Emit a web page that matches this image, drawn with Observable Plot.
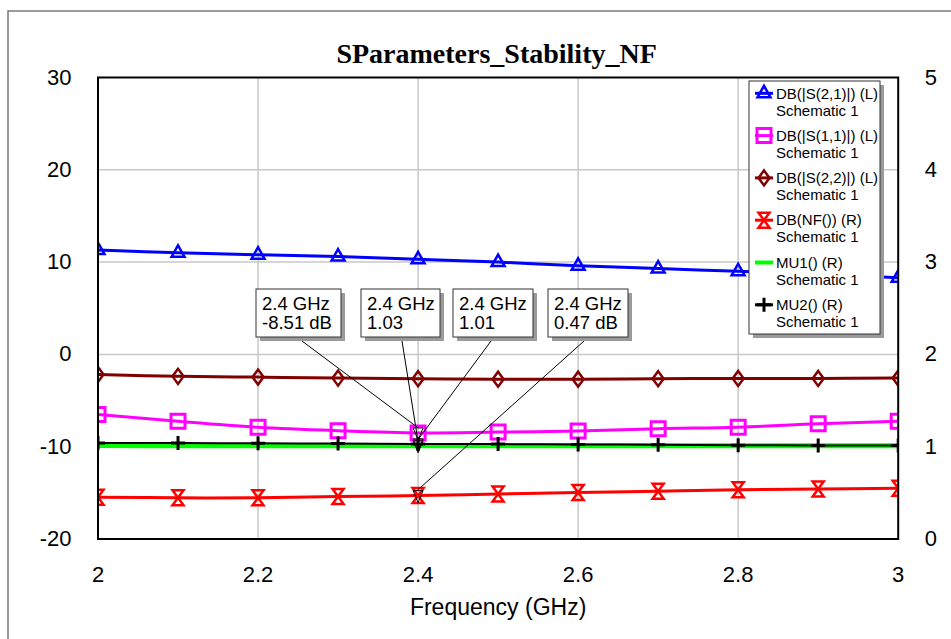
<!DOCTYPE html>
<html><head><meta charset="utf-8">
<script src="https://cdn.jsdelivr.net/npm/d3@7"></script>
<script src="https://cdn.jsdelivr.net/npm/@observablehq/plot@0.6"></script>
<style>body{margin:0;background:#fff;} svg{display:block}</style>
</head><body><div id="chart"></div>
<script>
// ---- data ----
const freq = [2.0, 2.1, 2.2, 2.3, 2.4, 2.5, 2.6, 2.7, 2.8, 2.9, 3.0];
const s21 = [11.3, 11.0, 10.8, 10.6, 10.3, 10.0, 9.6, 9.3, 9.0, 8.7, 8.3];          // dB, left
const s11 = [-6.5, -7.25, -7.9, -8.27, -8.51, -8.42, -8.3, -8.05, -7.88, -7.52, -7.23]; // dB, left
const s22 = [-2.17, -2.38, -2.46, -2.57, -2.63, -2.68, -2.68, -2.63, -2.6, -2.6, -2.57]; // dB, left
const nf  = [0.453, 0.446, 0.446, 0.46, 0.47, 0.488, 0.505, 0.518, 0.533, 0.542, 0.55]; // dB, right
const mu1 = [1.012, 1.011, 1.01, 1.01, 1.01, 1.01, 1.01, 1.01, 1.01, 1.01, 1.01];       // right
const mu2 = [1.04, 1.04, 1.037, 1.034, 1.03, 1.028, 1.025, 1.02, 1.017, 1.014, 1.012];  // right
const leftTicks = [-20, -10, 0, 10, 20, 30];
const rightTickLabels = [0, 1, 2, 3, 4, 5];
const xTicks = [2, 2.2, 2.4, 2.6, 2.8, 3];
const legendNames = ["DB(|S(2,1)|) (L)", "DB(|S(1,1)|) (L)", "DB(|S(2,2)|) (L)", "DB(NF()) (R)", "MU1() (R)", "MU2() (R)"];
const legendSub = "Schematic 1";
const markerFreqs = [2.4, 2.4, 2.4, 2.4];
const markerValues = [-8.51, 1.03, 1.01, 0.47];
const markerAxes = ["L", "R", "R", "R"];
const markerLine1 = ["2.4 GHz", "2.4 GHz", "2.4 GHz", "2.4 GHz"];
const markerLine2 = ["-8.51 dB", "1.03", "1.01", "0.47 dB"];
const titleText = "SParameters_Stability_NF";
const xLabel = "Frequency (GHz)";

// right axis (0..5) shares the left scale (-20..30)
const toLeft = v => v * 10 - 20;

const rows = freq.map((f, i) => ({f, s21: s21[i], s11: s11[i], s22: s22[i], nf: nf[i], mu1: mu1[i], mu2: mu2[i]}));
const markers = markerFreqs.map((f, i) => ({f, y: markerAxes[i] === "L" ? markerValues[i] : toLeft(markerValues[i]), l1: markerLine1[i], l2: markerLine2[i]}));

// ---- symbols ----
const triUp = {draw(c){c.moveTo(0,-7.5);c.lineTo(6.5,4);c.lineTo(-6.5,4);c.closePath();}};
const square = {draw(c){c.moveTo(-7,-7);c.lineTo(7,-7);c.lineTo(7,7);c.lineTo(-7,7);c.closePath();}};
const diamond = {draw(c){c.moveTo(0,-7.5);c.lineTo(5.5,0);c.lineTo(0,7.5);c.lineTo(-5.5,0);c.closePath();}};
const bowtie = {draw(c){c.moveTo(-5.5,-7.5);c.lineTo(5.5,-7.5);c.lineTo(-5.5,7.5);c.lineTo(5.5,7.5);c.closePath();}};
const plusSym = {draw(c){c.moveTo(0,-7);c.lineTo(0,7);c.moveTo(-7,0);c.lineTo(7,0);}};
const triDown = {draw(c){c.moveTo(-5,-5);c.lineTo(5,-5);c.lineTo(0,7);c.closePath();}};

const styles = [
  {key:"s21", color:"#0000ff", sym:triUp, lw:3, sw:2.5, axis:"L"},
  {key:"s11", color:"#ff00ff", sym:square, lw:3, sw:3, axis:"L"},
  {key:"s22", color:"#800000", sym:diamond, lw:3, sw:2.5, axis:"L"},
  {key:"nf",  color:"#ff0000", sym:bowtie, lw:3, sw:2.5, axis:"R"},
  {key:"mu1", color:"#00ff00", sym:null, lw:5, sw:0, axis:"R"},
  {key:"mu2", color:"#000000", sym:plusSym, lw:2, sw:3, axis:"R"}
];

const FONT = "'Liberation Sans', Arial, sans-serif";

function seriesMarks(s) {
  const yAcc = s.axis === "L" ? (d => d[s.key]) : (d => toLeft(d[s.key]));
  const out = [Plot.line(rows, {x: "f", y: yAcc, stroke: s.color, strokeWidth: s.lw, curve: "catmull-rom", clip: true})];
  if (s.sym) out.push(Plot.dot(rows, {x: "f", y: yAcc, symbol: s.sym, r: 5, fill: "none", stroke: s.color, strokeWidth: s.sw, clip: true}));
  return out;
}

// annotation boxes (layout in px)
const boxLeft = [256, 361, 453, 548];
const boxWidth = [85, 79, 80, 80];
const boxTop = 289, boxH = 48;
const leadStart = [302, 402, 491, 584];

function annotations(index, scales) {
  const g = d3.create("svg:g").attr("font-family", FONT).attr("text-anchor", "start");
  markers.forEach((m, i) => {
    const px = scales.x(m.f), py = scales.y(m.y);
    g.append("line").attr("x1", leadStart[i]).attr("y1", boxTop + boxH + 4)
      .attr("x2", px).attr("y2", py - 5).attr("stroke", "#000").attr("stroke-width", 1);
  });
  markers.forEach((m, i) => {
    g.append("rect").attr("x", boxLeft[i] + 4).attr("y", boxTop + 4).attr("width", boxWidth[i]).attr("height", boxH).attr("fill", "#9a9a9a");
    g.append("rect").attr("x", boxLeft[i]).attr("y", boxTop).attr("width", boxWidth[i]).attr("height", boxH).attr("fill", "#fff").attr("stroke", "#333").attr("stroke-width", 1);
    g.append("text").attr("x", boxLeft[i] + 6).attr("y", boxTop + 15).attr("dy", "0.35em").attr("font-size", 18.5).attr("fill", "#000").text(m.l1);
    g.append("text").attr("x", boxLeft[i] + 6).attr("y", boxTop + 34).attr("dy", "0.35em").attr("font-size", 18.5).attr("fill", "#000").text(m.l2);
  });
  return g.node();
}

function legend() {
  const g = d3.create("svg:g").attr("font-family", FONT).attr("text-anchor", "start");
  const L = 749, T = 81, Wd = 131, Hd = 253;
  g.append("rect").attr("x", L + 4).attr("y", T + 4).attr("width", Wd).attr("height", Hd).attr("fill", "#9a9a9a");
  g.append("rect").attr("x", L).attr("y", T).attr("width", Wd).attr("height", Hd).attr("fill", "#fff").attr("stroke", "#333").attr("stroke-width", 1);
  styles.forEach((s, i) => {
    const cy = 93.3 + i * 42.3, cx = 764;
    g.append("line").attr("x1", cx - 9).attr("x2", cx + 9).attr("y1", cy).attr("y2", cy)
      .attr("stroke", s.color).attr("stroke-width", s.key === "mu1" ? 4 : 3);
    if (s.sym) g.append("path").attr("transform", `translate(${cx},${cy})`).attr("d", d3.symbol(s.sym)())
      .attr("fill", "none").attr("stroke", s.color).attr("stroke-width", s.sw);
    g.append("text").attr("x", 776).attr("y", cy).attr("dy", "0.35em").attr("font-size", 15).attr("fill", "#000").text(legendNames[i]);
    g.append("text").attr("x", 776).attr("y", cy + 17).attr("dy", "0.35em").attr("font-size", 15).attr("fill", "#000").text(legendSub);
  });
  return g.node();
}

function outerBorder() {
  const g = d3.create("svg:g");
  g.append("path").attr("d", "M8,700V11H1000").attr("fill", "none").attr("stroke", "#7a7a7a").attr("stroke-width", 1.5);
  return g.node();
}

const chart = Plot.plot({
  width: 951, height: 639,
  marginLeft: 97.5, marginRight: 53.3, marginTop: 77, marginBottom: 100.5,
  x: {domain: [2, 3]},
  y: {domain: [-20, 30]},
  style: {fontFamily: FONT, fontSize: "22px", color: "#000", background: "#fff", overflow: "visible"},
  marks: [
    outerBorder,
    Plot.gridX({ticks: xTicks.slice(1, -1), stroke: "#c8c8c8", strokeOpacity: 1, strokeWidth: 1.5}),
    Plot.gridY({ticks: leftTicks.slice(1, -1), stroke: "#c8c8c8", strokeOpacity: 1, strokeWidth: 1.5}),
    ...styles.flatMap(seriesMarks),
    Plot.dot(markers, {x: "f", y: "y", symbol: triDown, r: 5, fill: "none", stroke: "#000", strokeWidth: 1}),
    Plot.frame({stroke: "#000", strokeWidth: 2}),
    annotations,
    legend,
    Plot.axisY({anchor: "left", ticks: leftTicks, tickFormat: d => String(d), tickSize: 0, tickPadding: 26.5, label: null, fontSize: 22}),
    Plot.axisY({anchor: "right", ticks: rightTickLabels.map(toLeft), tickFormat: (d, i) => String(rightTickLabels[i]), tickSize: 0, tickPadding: 26.5, label: null, fontSize: 22}),
    Plot.axisX({ticks: xTicks, tickFormat: d => String(d), tickSize: 0, tickPadding: 27, label: null, fontSize: 22}),
    Plot.text([xLabel], {text: d => d, frameAnchor: "bottom", lineAnchor: "middle", dy: 68.5, fontSize: 23}),
    Plot.text([titleText], {text: d => d, frameAnchor: "top", lineAnchor: "middle", dx: -1.5, dy: -23.5, fontSize: 28, fontWeight: "bold", fontFamily: "'Liberation Serif', 'Times New Roman', serif"})
  ]
});
document.getElementById("chart").appendChild(chart);
</script>
</body></html>
